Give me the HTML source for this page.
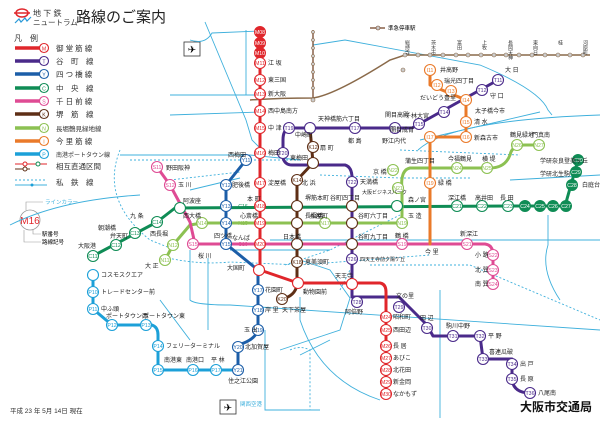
<!DOCTYPE html>
<html><head><meta charset="utf-8">
<style>
html,body{margin:0;padding:0;background:#fff;}
svg{display:block;font-family:"Liberation Sans","Noto Sans CJK JP",sans-serif;}
.st{fill:#fff;stroke-width:1.1}
circle.st{r:5.5px}
.t{font-size:5.2px;text-anchor:middle;}
.lb{font-size:6px;fill:#222;}
.pl{fill:none;stroke:#3fb0dc;stroke-width:0.9}
.pd{fill:none;stroke:#3fb0dc;stroke-width:0.9;stroke-dasharray:2 2}
</style></head><body>
<svg width="600" height="425" viewBox="0 0 600 425" xmlns="http://www.w3.org/2000/svg">
<!-- title -->
<ellipse cx="22" cy="13" rx="6" ry="4" fill="none" stroke="#e0262b" stroke-width="1.5"/>
<line x1="14" y1="13" x2="30" y2="13" stroke="#e0262b" stroke-width="1.5"/>
<path d="M15 23 l4 -4 l2 3 l4 -4 l2 3 l4 -4" fill="none" stroke="#2a9ad8" stroke-width="1.2"/>
<text x="33" y="16" font-size="8" fill="#333">地 下 鉄</text>
<text x="33" y="25" font-size="7.5" fill="#333">ニュートラム</text>
<text x="76" y="22" font-size="15" fill="#222">路線のご案内</text>
<!-- legend -->
<text x="14" y="41" font-size="8" fill="#333">凡　例</text>
<g font-size="7.5" fill="#333">
<line x1="15" y1="48" x2="40" y2="48" stroke="#e0262b" stroke-width="3.5"/><circle cx="44" cy="48" r="4.5" fill="#fff" stroke-width="1.1" stroke="#e0262b"/><text x="44" y="50.5" class="t" fill="#e0262b">M</text><text x="56" y="51">御 堂 筋 線</text>
<line x1="15" y1="61" x2="40" y2="61" stroke="#4a2a8a" stroke-width="3.5"/><circle cx="44" cy="61" r="4.5" fill="#fff" stroke-width="1.1" stroke="#4a2a8a"/><text x="44" y="63.5" class="t" fill="#4a2a8a">T</text><text x="56" y="64">谷　町　線</text>
<line x1="15" y1="74" x2="40" y2="74" stroke="#1c5ea8" stroke-width="3.5"/><circle cx="44" cy="74" r="4.5" fill="#fff" stroke-width="1.1" stroke="#1c5ea8"/><text x="44" y="76.5" class="t" fill="#1c5ea8">Y</text><text x="56" y="77">四 つ 橋 線</text>
<line x1="15" y1="88" x2="40" y2="88" stroke="#0f8c55" stroke-width="3.5"/><circle cx="44" cy="88" r="4.5" fill="#fff" stroke-width="1.1" stroke="#0f8c55"/><text x="44" y="90.5" class="t" fill="#0f8c55">C</text><text x="56" y="91">中　央　線</text>
<line x1="15" y1="101" x2="40" y2="101" stroke="#df4b94" stroke-width="3.5"/><circle cx="44" cy="101" r="4.5" fill="#fff" stroke-width="1.1" stroke="#df4b94"/><text x="44" y="103.5" class="t" fill="#df4b94">S</text><text x="56" y="104">千 日 前 線</text>
<line x1="15" y1="114" x2="40" y2="114" stroke="#5e2f16" stroke-width="3.5"/><circle cx="44" cy="114" r="4.5" fill="#fff" stroke-width="1.1" stroke="#5e2f16"/><text x="44" y="116.5" class="t" fill="#5e2f16">K</text><text x="56" y="117">堺　筋　線</text>
<line x1="15" y1="128" x2="40" y2="128" stroke="#8cc152" stroke-width="3.5"/><circle cx="44" cy="128" r="4.5" fill="#fff" stroke-width="1.1" stroke="#8cc152"/><text x="44" y="130.5" class="t" fill="#8cc152">N</text><text x="56" y="131" font-size="6.5">長堀鶴見緑地線</text>
<line x1="15" y1="141" x2="40" y2="141" stroke="#ea7a2a" stroke-width="3.5"/><circle cx="44" cy="141" r="4.5" fill="#fff" stroke-width="1.1" stroke="#ea7a2a"/><text x="44" y="143.5" class="t" fill="#ea7a2a">I</text><text x="56" y="144">今 里 筋 線</text>
<line x1="15" y1="154" x2="40" y2="154" stroke="#1ca0d8" stroke-width="3.5"/><circle cx="44" cy="154" r="4.5" fill="#fff" stroke-width="1.1" stroke="#1ca0d8"/><text x="44" y="156.5" class="t" fill="#1ca0d8">P</text><text x="56" y="157" font-size="6">南港ポートタウン線</text>
<line x1="15" y1="164" x2="47" y2="164" stroke="#e0262b" stroke-width="1"/><circle cx="25" cy="164" r="2" fill="#fff" stroke="#e0262b"/><circle cx="38" cy="164" r="2" fill="#fff" stroke="#0f8c55"/>
<line x1="15" y1="169" x2="30" y2="169" stroke="#5e2f16" stroke-width="1"/><circle cx="25" cy="169" r="2" fill="#fff" stroke="#5e2f16"/>
<text x="56" y="169">相互直通区間</text>
<line x1="15" y1="180" x2="47" y2="180" class="pd"/><line x1="15" y1="185" x2="47" y2="185" class="pl"/><circle cx="32" cy="185" r="1.5" fill="#1ca0d8"/>
<text x="56" y="185">私　鉄　線</text>
</g>
<circle cx="30" cy="220" r="10" fill="#fff" stroke="#999" stroke-width="0.8"/>
<text x="30" y="224" font-size="10" fill="#e0262b" text-anchor="middle">M16</text>
<path d="M26 210 v-8 h17" fill="none" stroke="#999" stroke-width="0.6"/><text x="45" y="204" font-size="5.5" fill="#3fb0dc">ラインカラー</text>
<path d="M33 230 v4 h8" fill="none" stroke="#999" stroke-width="0.6"/><text x="42" y="236" font-size="5.5">駅番号</text>
<path d="M24 230 v12 h17" fill="none" stroke="#999" stroke-width="0.6"/><text x="42" y="244" font-size="5.5">路線記号</text>
<!-- airports -->
<rect x="184" y="42" width="16" height="14" fill="#fff" stroke="#333" stroke-width="0.8"/><text x="192" y="53" font-size="10" text-anchor="middle">✈</text>
<rect x="220" y="400" width="16" height="14" fill="#fff" stroke="#333" stroke-width="0.8"/><text x="228" y="411" font-size="10" text-anchor="middle">✈</text>
<text x="240" y="406" font-size="5.5" fill="#3fb0dc">関西空港</text>
<!-- private lines -->
<g class="pl">
<path d="M205 22 L246 120 L252 140 L262 150"/>
<path d="M190 40 Q205 45 212 33 L260 31"/>
<path d="M313 45 L345 40 L480 65 Q540 90 548 110 L552 115"/>
<path d="M170 95 L260 95"/><path d="M170 115 L262 112"/>
<path d="M120 155 L250 155 L300 160"/>
<path d="M190 190 L240 178"/>
<path d="M10 225 Q60 200 140 195"/>
<path d="M230 250 L330 250"/>
<path d="M190 250 L190 300 Q195 305 230 305 L600 330"/>
<path d="M300 297 L300 320 Q320 380 380 400"/>
<path d="M265 330 L265 410 L320 410"/>
<path d="M300 355 L330 340"/>
<path d="M440 290 L440 418"/>
<path d="M418 150 Q450 120 600 115"/>
<path d="M420 140 L540 112"/>
<path d="M270 240 L600 240"/>
<path d="M300 260 L330 270 L350 298 L340 330 L280 350"/>
<path d="M510 180 L600 175"/>
<path d="M208 258 L208 330"/><path d="M160 300 L190 340"/>
<path d="M548 215 L548 245 Q540 270 560 300"/>
<path d="M246 30 L246 95"/>
</g>
<g class="pd">
<path d="M130 160 L300 160"/><path d="M170 180 L240 172"/>
<path d="M320 175 L400 178 L470 178"/><path d="M400 150 L520 155"/>
<path d="M168 258 Q200 265 230 262 L300 265 L430 255"/>
<path d="M370 265 L470 265 L600 320"/>
<path d="M285 265 L330 250 L400 215"/><path d="M290 350 Q300 345 310 350 L310 410"/>
<path d="M340 290 L350 270"/>
<path d="M120 150 Q100 200 150 240 L175 250"/>
</g>
<!-- Hankyu -->
<path d="M313 30 L313 100" stroke="#6b3a1c" stroke-width="1.2" fill="none"/>
<path d="M250 100 Q280 98 313 98 Q335 95 390 60 L405 55 L590 55" stroke="#8a6a4a" stroke-width="1.5" fill="none"/>
<line x1="370" y1="28" x2="385" y2="28" stroke="#6b3a1c" stroke-width="1.2"/><circle cx="378" cy="28" r="2" fill="#ccc" stroke="#6b3a1c" stroke-width="0.6"/><text x="388" y="30" font-size="5.5">準急停車駅</text>
<g fill="#ccc" stroke="#8a6a4a" stroke-width="0.6">
<circle cx="405" cy="55" r="2"/><circle cx="418" cy="55" r="2"/><circle cx="430" cy="55" r="2"/><circle cx="443" cy="55" r="2"/><circle cx="456" cy="55" r="2"/><circle cx="468" cy="55" r="2"/><circle cx="481" cy="55" r="2"/><circle cx="494" cy="55" r="2"/><circle cx="506" cy="55" r="2"/><circle cx="519" cy="55" r="2"/><circle cx="532" cy="55" r="2"/><circle cx="545" cy="55" r="2"/><circle cx="558" cy="55" r="2"/><circle cx="570" cy="55" r="2"/><circle cx="583" cy="55" r="2"/><circle cx="403" cy="70" r="2"/><circle cx="313" cy="100" r="2"/>
<circle cx="313" cy="32" r="1.5"/><circle cx="313" cy="40" r="1.5"/><circle cx="313" cy="48" r="1.5"/><circle cx="313" cy="56" r="1.5"/><circle cx="313" cy="64" r="1.5"/><circle cx="313" cy="72" r="1.5"/><circle cx="313" cy="80" r="1.5"/><circle cx="313" cy="88" r="1.5"/>
</g>
<g font-size="5" fill="#333">
<text x="407" y="40" writing-mode="tb">総持寺</text><text x="433" y="40" writing-mode="tb">茨木市</text><text x="459" y="40" writing-mode="tb">富田</text><text x="484" y="40" writing-mode="tb">上牧</text><text x="510" y="40" writing-mode="tb">長岡天神</text><text x="535" y="40" writing-mode="tb">東向日</text><text x="560" y="40" writing-mode="tb">桂</text><text x="585" y="40" writing-mode="tb">河原町</text>
</g>
<!-- Subway lines -->
<g fill="none" stroke-linejoin="round" stroke-linecap="round">
<path d="M93 275 L93 309 L112 325 L152 325 Q158 327 158 335 L158 370 L238 370" stroke="#1ca0d8" stroke-width="3"/>
<path d="M246 160 L226 185 L226 244 L258 270 L258 330 Q255 340 238 345 L238 370" stroke="#1c5ea8" stroke-width="3"/>
<path d="M93 256 L157 222 L175 208 L510 206 L565 206 L578 160" stroke="#0f8c55" stroke-width="3"/>
<path d="M165 260 L173 245 L190 225 L202 223 L398 223 Q402 222 402 215 L402 190 Q400 170 410 168 L490 168 Q505 168 510 155 Q512 145 525 145 L539 145" stroke="#8cc152" stroke-width="3"/>
<path d="M157 167 L170 185 L190 222 L195 244 L485 244 Q493 245 493 255 L493 284" stroke="#df4b94" stroke-width="3"/>
<path d="M310 128 L313 163 L297 180 L297 285 Q295 296 282 299" stroke="#5e2f16" stroke-width="3"/>
<path d="M430 70 L430 85 L466 100 L466 137 L430 137 L430 244" stroke="#ea7a2a" stroke-width="3"/>
<path d="M498 80 L419 124 L412 128 L289 128 Q283 130 283 140 L283 158 Q285 165 292 165 L345 165 Q352 167 352 178 L352 297 L399 297 L427 325 L433 336 L480 336 L483 359 L512 359 L512 380 Q514 393 530 393" stroke="#4a2a8a" stroke-width="3"/>
<path d="M260 32 L260 270 L298 283 L380 283 Q386 284 386 292 L386 394" stroke="#e0262b" stroke-width="3"/>
</g>
<!-- Stations -->
<g class="t">
<g stroke="#e0262b">
<circle cx="260" cy="32" r="5.5" fill="#e0262b"/><circle cx="260" cy="43" r="5.5" fill="#e0262b"/><circle cx="260" cy="53" r="5.5" fill="#e0262b"/>
<circle cx="260" cy="63" r="6" class="st"/><circle cx="260" cy="80" r="6" class="st"/><circle cx="260" cy="94" r="6" class="st"/><circle cx="260" cy="111" r="6" class="st"/><circle cx="260" cy="128" r="6" class="st"/><circle cx="260" cy="153" r="6" class="st"/><circle cx="260" cy="183" r="6" class="st"/><circle cx="260" cy="206" r="6" class="st"/><circle cx="260" cy="223" r="6" class="st"/><circle cx="260" cy="244" r="6" class="st"/><circle cx="259" cy="270" r="6" class="st"/><circle cx="298" cy="283" r="6" class="st"/><circle cx="352" cy="284" r="6" class="st"/>
<circle cx="386" cy="317" r="6" class="st"/><circle cx="386" cy="330" r="6" class="st"/><circle cx="386" cy="346" r="6" class="st"/><circle cx="386" cy="358" r="6" class="st"/><circle cx="386" cy="370" r="6" class="st"/><circle cx="386" cy="382" r="6" class="st"/><circle cx="386" cy="394" r="6" class="st"/>
</g>
<g fill="#fff"><text x="260" y="34">M08</text><text x="260" y="45">M09</text><text x="260" y="55">M10</text></g>
<g fill="#e0262b"><text x="260" y="65">M11</text><text x="260" y="82">M12</text><text x="260" y="96">M13</text><text x="260" y="113">M14</text><text x="260" y="130">M15</text><text x="260" y="155">M16</text><text x="260" y="185">M17</text><text x="260" y="208">M18</text><text x="260" y="225">M19</text><text x="260" y="246">M20</text><text x="386" y="319">M24</text><text x="386" y="332">M25</text><text x="386" y="348">M26</text><text x="386" y="360">M27</text><text x="386" y="372">M28</text><text x="386" y="384">M29</text><text x="386" y="396">M30</text></g>
<g stroke="#4a2a8a">
<circle cx="498" cy="80" r="6" class="st"/><circle cx="482" cy="90" r="6" class="st"/><circle cx="444" cy="112" r="6" class="st"/><circle cx="419" cy="124" r="6" class="st"/><circle cx="395" cy="128" r="6" class="st"/><circle cx="355" cy="128" r="6" class="st"/><circle cx="310" cy="128" r="6" class="st"/><circle cx="289" cy="128" r="6" class="st"/><circle cx="283" cy="153" r="6" class="st"/><circle cx="352" cy="182" r="6" class="st"/><circle cx="352" cy="259" r="6" class="st"/><circle cx="357" cy="302" r="6" class="st"/><circle cx="399" cy="307" r="6" class="st"/><circle cx="427" cy="328" r="6" class="st"/><circle cx="453" cy="336" r="6" class="st"/><circle cx="480" cy="336" r="6" class="st"/><circle cx="483" cy="359" r="6" class="st"/><circle cx="512" cy="364" r="6" class="st"/><circle cx="512" cy="379" r="6" class="st"/><circle cx="530" cy="393" r="6" class="st"/>
</g>
<g fill="#4a2a8a"><text x="498" y="82">T11</text><text x="482" y="92">T12</text><text x="444" y="114">T14</text><text x="419" y="126">T15</text><text x="395" y="130">T16</text><text x="355" y="130">T17</text><text x="289" y="130">T19</text><text x="283" y="155">T20</text><text x="352" y="184">T22</text><text x="352" y="261">T26</text><text x="357" y="304">T28</text><text x="399" y="309">T29</text><text x="427" y="330">T30</text><text x="453" y="338">T31</text><text x="480" y="338">T32</text><text x="483" y="361">T33</text><text x="512" y="366">T34</text><text x="512" y="381">T35</text><text x="530" y="395">T36</text></g>
<g stroke="#1c5ea8"><circle cx="246" cy="160" r="6" class="st"/><circle cx="226" cy="185" r="6" class="st"/><circle cx="226" cy="206" r="6" class="st"/><circle cx="226" cy="223" r="6" class="st"/><circle cx="226" cy="244" r="6" class="st"/><circle cx="258" cy="290" r="6" class="st"/><circle cx="258" cy="310" r="6" class="st"/><circle cx="258" cy="330" r="6" class="st"/><circle cx="238" cy="347" r="6" class="st"/><circle cx="238" cy="370" r="6" class="st"/></g>
<g fill="#1c5ea8"><text x="246" y="162">Y11</text><text x="226" y="187">Y12</text><text x="226" y="208">Y13</text><text x="226" y="225">Y14</text><text x="226" y="246">Y15</text><text x="258" y="292">Y17</text><text x="258" y="312">Y18</text><text x="258" y="332">Y19</text><text x="238" y="349">Y20</text><text x="238" y="372">Y21</text></g>
<g stroke="#0f8c55"><circle cx="93" cy="256" r="6" class="st"/><circle cx="116" cy="245" r="6" class="st"/><circle cx="135" cy="233" r="6" class="st"/><circle cx="157" cy="222" r="6" class="st"/><circle cx="180" cy="208" r="6" class="st"/><circle cx="397" cy="206" r="6" class="st"/><circle cx="457" cy="206" r="6" class="st"/><circle cx="482" cy="206" r="6" class="st"/><circle cx="508" cy="206" r="6" class="st"/>
<circle cx="525" cy="206" r="5.5" fill="#0f8c55"/><circle cx="540" cy="206" r="5.5" fill="#0f8c55"/><circle cx="553" cy="206" r="5.5" fill="#0f8c55"/><circle cx="566" cy="206" r="5.5" fill="#0f8c55"/><circle cx="572" cy="185" r="5.5" fill="#0f8c55"/><circle cx="576" cy="172" r="5.5" fill="#0f8c55"/><circle cx="578" cy="160" r="5.5" fill="#0f8c55"/></g>
<g fill="#0f8c55"><text x="93" y="258">C11</text><text x="116" y="247">C12</text><text x="135" y="235">C13</text><text x="157" y="224">C14</text><text x="457" y="208">C21</text><text x="482" y="208">C22</text><text x="508" y="208">C23</text><text x="243" y="208">C16</text></g>
<g fill="#fff"><text x="525" y="208">C24</text><text x="540" y="208">C25</text><text x="553" y="208">C26</text><text x="566" y="208">C27</text><text x="572" y="187">C28</text><text x="576" y="174">C29</text><text x="578" y="162">C30</text></g>
<g stroke="#8cc152"><circle cx="165" cy="260" r="6" class="st"/><circle cx="173" cy="245" r="6" class="st"/><circle cx="202" cy="223" r="6" class="st"/><circle cx="325" cy="223" r="6" class="st"/><circle cx="402" cy="223" r="6" class="st"/><circle cx="398" cy="188" r="6" class="st"/><circle cx="393" cy="170" r="6" class="st"/><circle cx="457" cy="168" r="6" class="st"/><circle cx="487" cy="168" r="6" class="st"/><circle cx="517" cy="145" r="6" class="st"/><circle cx="539" cy="145" r="6" class="st"/></g>
<g fill="#8cc152"><text x="165" y="262">N11</text><text x="173" y="247">N12</text><text x="202" y="225">N14</text><text x="243" y="225">N15</text><text x="325" y="225">N17</text><text x="402" y="225">N19</text><text x="398" y="190">N21</text><text x="393" y="172">N22</text><text x="457" y="170">N24</text><text x="487" y="170">N25</text><text x="517" y="147">N26</text><text x="539" y="147">N27</text></g>
<g stroke="#df4b94"><circle cx="157" cy="167" r="6" class="st"/><circle cx="170" cy="185" r="6" class="st"/><circle cx="193" cy="244" r="6" class="st"/><circle cx="402" cy="244" r="6" class="st"/><circle cx="467" cy="244" r="6" class="st"/><circle cx="493" cy="255" r="6" class="st"/><circle cx="493" cy="270" r="6" class="st"/><circle cx="493" cy="284" r="6" class="st"/></g>
<g fill="#df4b94"><text x="157" y="169">S11</text><text x="170" y="187">S12</text><text x="193" y="246">S15</text><text x="243" y="246">S16</text><text x="402" y="246">S19</text><text x="467" y="246">S21</text><text x="493" y="257">S22</text><text x="493" y="272">S23</text><text x="493" y="286">S24</text></g>
<g stroke="#5e2f16"><circle cx="313" cy="147" r="6" class="st"/><circle cx="297" cy="180" r="6" class="st"/><circle cx="297" cy="206" r="6" class="st"/><circle cx="297" cy="223" r="6" class="st"/><circle cx="297" cy="244" r="6" class="st"/><circle cx="297" cy="262" r="6" class="st"/><circle cx="282" cy="299" r="6" class="st"/><circle cx="313" cy="163" r="6" class="st"/><circle cx="352" cy="206" r="6" class="st"/><circle cx="352" cy="223" r="6" class="st"/><circle cx="352" cy="244" r="6" class="st"/></g>
<g fill="#5e2f16"><text x="313" y="149">K12</text><text x="297" y="182">K14</text><text x="297" y="264">K18</text><text x="282" y="301">K20</text></g>
<g stroke="#ea7a2a"><circle cx="430" cy="70" r="6" class="st"/><circle cx="437" cy="85" r="6" class="st"/><circle cx="451" cy="91" r="6" class="st"/><circle cx="466" cy="100" r="6" class="st"/><circle cx="466" cy="122" r="6" class="st"/><circle cx="466" cy="137" r="6" class="st"/><circle cx="430" cy="137" r="6" class="st"/><circle cx="430" cy="183" r="6" class="st"/></g>
<g fill="#ea7a2a"><text x="430" y="72">I11</text><text x="437" y="87">I12</text><text x="451" y="93">I13</text><text x="466" y="102">I14</text><text x="466" y="124">I15</text><text x="466" y="139">I16</text><text x="430" y="139">I17</text><text x="430" y="185">I19</text></g>
<g stroke="#1ca0d8"><circle cx="93" cy="275" r="6" class="st"/><circle cx="93" cy="292" r="6" class="st"/><circle cx="93" cy="309" r="6" class="st"/><circle cx="112" cy="325" r="6" class="st"/><circle cx="146" cy="325" r="6" class="st"/><circle cx="158" cy="346" r="6" class="st"/><circle cx="158" cy="370" r="6" class="st"/><circle cx="193" cy="370" r="6" class="st"/><circle cx="216" cy="370" r="6" class="st"/></g>
<g fill="#1ca0d8"><text x="93" y="294">P10</text><text x="93" y="311">P11</text><text x="112" y="327">P12</text><text x="146" y="327">P13</text><text x="158" y="348">P14</text><text x="158" y="372">P15</text><text x="193" y="372">P16</text><text x="216" y="372">P17</text></g>
</g>
<!-- station names -->
<g class="lb">
<text x="268" y="65">江 坂</text><text x="268" y="82">東三国</text><text x="268" y="96">新大阪</text><text x="268" y="113">西中島南方</text><text x="268" y="130">中 津</text><text x="268" y="155">梅田</text><text x="268" y="185">淀屋橋</text><text x="247" y="201">本 町</text><text x="240" y="218">心斎橋</text><text x="232" y="240">なんば</text><text x="227" y="270">大国町</text><text x="303" y="294">動物園前</text><text x="335" y="278">天王寺</text><text x="393" y="319">昭和町</text><text x="393" y="332">西田辺</text><text x="393" y="348">長 居</text><text x="393" y="360">あびこ</text><text x="393" y="372">北花田</text><text x="393" y="384">新金岡</text><text x="393" y="396">なかもず</text>
<text x="505" y="72">大 日</text><text x="490" y="98">守 口</text><text x="475" y="113">太子橋今市</text><text x="405" y="118">千林大宮</text><text x="385" y="117">関目高殿</text><text x="382" y="143">野江内代</text><text x="348" y="143">都 島</text><text x="318" y="121">天神橋筋六丁目</text><text x="295" y="137">中崎町</text><text x="290" y="160">東梅田</text><text x="320" y="150">扇 町</text><text x="302" y="185">北 浜</text><text x="360" y="184">天満橋</text><text x="330" y="200">谷町四丁目</text><text x="358" y="218">谷町六丁目</text><text x="358" y="239">谷町九丁目</text><text x="360" y="261" font-size="5">四天王寺前夕陽ケ丘</text><text x="345" y="314">阿倍野</text><text x="396" y="298">文の里</text><text x="420" y="320">田 辺</text><text x="446" y="328">駒川中野</text><text x="488" y="338">平 野</text><text x="489" y="354">喜連瓜破</text><text x="520" y="366">出 戸</text><text x="520" y="381">長 原</text><text x="538" y="395">八尾南</text>
<text x="440" y="72">井高野</text><text x="444" y="83">瑞光四丁目</text><text x="420" y="100">だいどう豊里</text><text x="474" y="140">新森古市</text><text x="474" y="124">清 水</text><text x="390" y="132">関目成育</text><text x="438" y="185">緑 橋</text><text x="405" y="163">蒲生四丁目</text><text x="448" y="161">今福鶴見</text><text x="482" y="161">横 堤</text><text x="510" y="137">鶴見緑地</text><text x="532" y="137">門真南</text><text x="408" y="202">森ノ宮</text><text x="373" y="174">京 橋</text><text x="362" y="194" font-size="5">大阪ビジネスパーク</text><text x="408" y="218">玉 造</text><text x="395" y="238">鶴 橋</text><text x="425" y="254">今 里</text><text x="460" y="236">新深江</text><text x="475" y="257">小 路</text><text x="475" y="272">北 巽</text><text x="475" y="286">南 巽</text><text x="448" y="200">深江橋</text><text x="475" y="200">高井田</text><text x="500" y="200">長 田</text><text x="540" y="163">学研奈良登美ヶ丘</text><text x="540" y="176">学研北生駒</text><text x="582" y="187">白庭台</text>
<text x="228" y="157">西梅田</text><text x="232" y="187">肥後橋</text><text x="214" y="238">四ツ橋</text><text x="265" y="292">花園町</text><text x="265" y="312">岸 里</text><text x="244" y="332">玉 出</text><text x="245" y="349">北加賀屋</text><text x="228" y="383">住之江公園</text>
<text x="166" y="170">野田阪神</text><text x="178" y="187">玉 川</text><text x="183" y="203">阿波座</text><text x="183" y="218">西大橋</text><text x="150" y="236">西長堀</text><text x="198" y="258">桜 川</text><text x="145" y="268">大 正</text><text x="130" y="218">九 条</text><text x="110" y="238">弁天町</text><text x="98" y="230">朝潮橋</text><text x="78" y="248">大阪港</text><text x="101" y="277">コスモスクエア</text><text x="101" y="294">トレードセンター前</text><text x="101" y="311">中ふ頭</text><text x="106" y="318">ポートタウン西</text><text x="143" y="318">ポートタウン東</text><text x="166" y="348">フェリーターミナル</text><text x="164" y="362">南港東</text><text x="186" y="362">南港口</text><text x="211" y="362">平 林</text><text x="305" y="200">堺筋本町</text><text x="305" y="218">長堀橋</text><text x="283" y="239">日本橋</text><text x="305" y="264">恵美須町</text><text x="282" y="312">天下茶屋</text><text x="310" y="218">松屋町</text>
</g>
<text x="10" y="413" font-size="6.5" fill="#333">平成 23 年 5月 14日 現在</text>
<text x="520" y="411" font-size="12" font-weight="bold" fill="#111">大阪市交通局</text>
</svg>
</body></html>
